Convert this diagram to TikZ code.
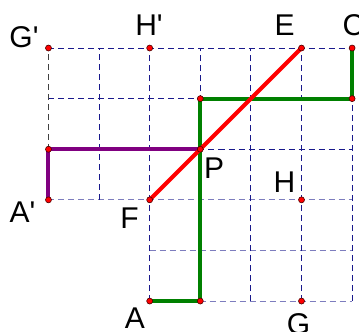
\documentclass[tikz,border=0pt]{standalone}
\usepackage{fontspec}
\setmainfont{Liberation Sans}[Ligatures=TeXOff]
\definecolor{gridblue}{RGB}{25,25,140}
\definecolor{gridlight}{RGB}{125,125,190}
\definecolor{pathgreen}{RGB}{0,128,0}
\definecolor{pathpurple}{RGB}{128,0,128}
\tikzstyle{gridline}=[draw=gridblue,line width=0.9pt,dash pattern=on 6pt off 4pt]
\tikzstyle{gridfaint}=[gridline,draw=gridlight]
\tikzstyle{route}=[line width=4pt]
\tikzstyle{vertex}=[circle,fill=red,draw=black!70!red,line width=0.6pt,inner sep=0pt,minimum size=6pt]
\tikzstyle{letter}=[anchor=base,inner sep=0pt,font=\fontsize{30}{36}\selectfont]

\begin{document}
\begin{tikzpicture}[
x=50.6pt,y=50.6pt
]
\useasboundingbox (-0.958,-0.593) rectangle (6.136,5.949);
%points
\coordinate (A) at (2,0);
\coordinate (A1) at (3,0);
\coordinate (G) at (5,0);
\coordinate (Ap) at (0,2);
\coordinate (F) at (2,2);
\coordinate (H) at (5,2);
\coordinate (Ap1) at (0,3);
\coordinate (P) at (3,3);
\coordinate (P1) at (3,4);
\coordinate (C1) at (6,4);
\coordinate (Gp) at (0,5);
\coordinate (Hp) at (2,5);
\coordinate (E) at (5,5);
\coordinate (C) at (6,5);
%grid
\foreach \y in {3,4,5} \path[gridline] (0,\y) -- (6,\y);
\path[gridfaint] (0,2) -- (6,2);
\foreach \y in {0,1} \path[gridfaint] (2,\y) -- (6,\y);
\path[gridline,draw=black!75] (0,2) -- (0,5);
\path[gridline] (1,2) -- (1,5);
\foreach \x in {2,...,6} \path[gridline] (\x,0) -- (\x,5);
%paths
\draw[route,pathgreen] (A) -- (A1) -- (P) -- (P1) -- (C1) -- (C);
\draw[route,pathpurple] (Ap) -- (Ap1) -- (P);
\draw[route,red] (F) -- (E);
%dots
\foreach \p in {A,A1,G,Ap,F,H,Ap1,P,P1,C1,Gp,Hp,E,C}
  \node[vertex] (dot\p) at (\p) {};
%labels
\node[letter] (lblGp) at (-0.484,5.020) {G'};
\node[letter] (lblHp) at (1.986,5.257) {H'};
\node[letter] (lblE) at (4.664,5.257) {E};
\node[letter] (lblC) at (6.028,5.257) {C};
\node[letter] (lblAp) at (-0.514,1.561) {A'};
\node[letter] (lblF) at (1.601,1.443) {F};
\node[letter] (lblP) at (3.271,2.431) {P};
\node[letter] (lblH) at (4.664,2.154) {H};
\node[letter] (lblA) at (1.709,-0.534) {A};
\node[letter] (lblG) at (4.941,-0.652) {G};
\end{tikzpicture}
\end{document}
